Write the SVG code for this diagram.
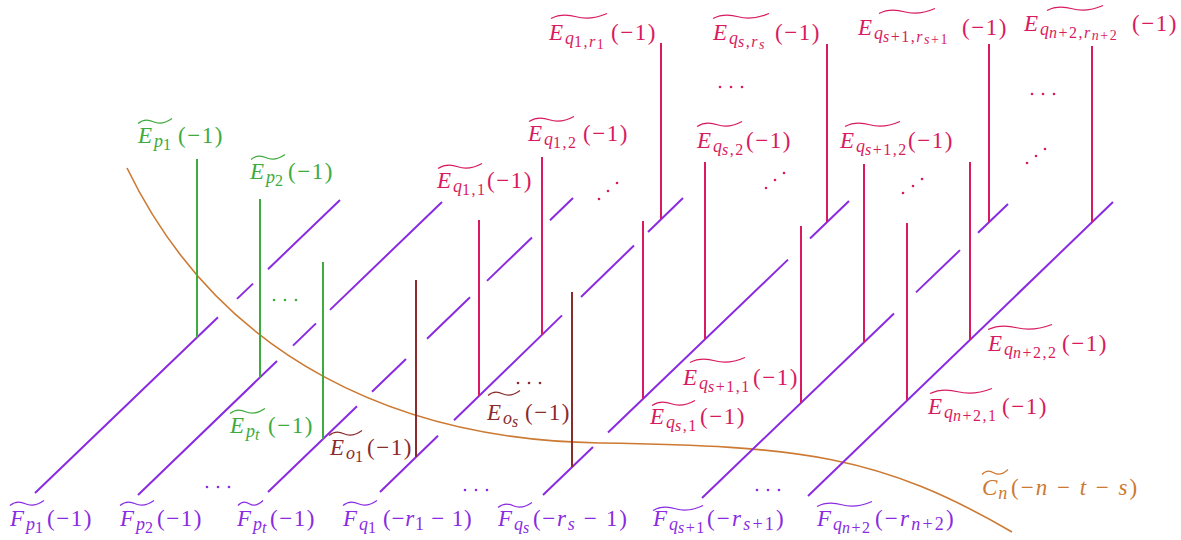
<svg xmlns="http://www.w3.org/2000/svg" width="1181" height="540" viewBox="0 0 1181 540">
<style>
.bg{fill:#ffffff}
.fl{stroke:#8a2be2;stroke-width:2;fill:none;stroke-linecap:butt}
.gl{stroke:#3dab3d;stroke-width:2;fill:none}
.rl{stroke:#d81b60;stroke-width:2;fill:none}
.bl{stroke:#8a2c2c;stroke-width:2;fill:none}
.cv{stroke:#cc7a33;stroke-width:1.6;fill:none}
.t{font-family:"Liberation Serif","DejaVu Serif",serif;font-size:23px}
.i{font-style:italic}
.a{font-size:18px}
.b{font-size:16px;letter-spacing:1.5px}
.c{font-size:14px;letter-spacing:1.5px}
.p{letter-spacing:1.5px}
.g{fill:#3dab3d}.gt{stroke:#3dab3d}
.r{fill:#d81b60}.rt{stroke:#d81b60}
.br{fill:#8a2c2c}.brt{stroke:#8a2c2c}
.v{fill:#8a2be2}.vt{stroke:#8a2be2}
.o{fill:#cc7a33}.ot{stroke:#cc7a33}
.tl{fill:none;stroke-width:1.2}
</style>
<rect class="bg" x="0" y="0" width="1181" height="540"/>

<g id="curve-Cn">
<path class="cv" d="M127,168 C220,360 400,440 600,443 S880,455 1012,532"/>
</g>

<g id="connectors">
<g id="F-lines">
<path id="F_p1" class="fl" d="M35,493 L218,317.2 M237,298.9 L253,283.6 M268,269.2 L340,200"/>
<path id="F_p2" class="fl" d="M138,495 L277,361 M293,345.6 L316,323.4 M330,309.9 L442,202"/>
<path id="F_pt" class="fl" d="M268,492 L357,406.2 M372,391.8 L406,359 M427,338.7 L470,297.3 M487,280.9 L532,237.5 M550,220.2 L573,198"/>
<path id="F_q1" class="fl" d="M380,492 L438,435.7 M454,420.2 L562,315.4 M581,297 L634,245.5 M648,232 L683,198"/>
<path id="F_qs" class="fl" d="M543,495 L593,447 M608,432.5 L788,259.6 M810,238.5 L849,201"/>
<path id="F_qs1" class="fl" d="M702,498 L894,313.5 M916,292.4 L960,250.1 M978,232.8 L1008,204"/>
<path id="F_qn2" class="fl" d="M808,496 L1113,202"/>
</g>
<g id="E-lines">
<path class="gl" d="M197,159 V337.4 M260,199 V377.4 M323,262 V439"/>
<path class="bl" d="M416,280 V457.1 M572,292 V467.1"/>
<path class="rl" d="M479,220 V395.9 M542,157 V334.8 M661,43 V219.3 M643,221 V398.9 M705,162 V339.4 M827,44 V222.1 M801,226 V402.9 M864,164 V342.4 M989,44 V222.3 M907,223 V400.6 M970,162 V339.8 M1092,46 V222.2"/>
</g>
</g>

<g id="dots">
<g class="g"><circle cx="274" cy="300" r="1.3"/><circle cx="285" cy="300" r="1.3"/><circle cx="296" cy="300" r="1.3"/></g>
<g class="br"><circle cx="518" cy="383" r="1.3"/><circle cx="529" cy="383" r="1.3"/><circle cx="540" cy="383" r="1.3"/></g>
<g class="v"><circle cx="207" cy="487" r="1.3"/><circle cx="218" cy="487" r="1.3"/><circle cx="229" cy="487" r="1.3"/><circle cx="465" cy="490" r="1.3"/><circle cx="476" cy="490" r="1.3"/><circle cx="487" cy="490" r="1.3"/><circle cx="757" cy="490" r="1.3"/><circle cx="768" cy="490" r="1.3"/><circle cx="779" cy="490" r="1.3"/></g>
<g class="r"><circle cx="720" cy="87" r="1.3"/><circle cx="731" cy="87" r="1.3"/><circle cx="742" cy="87" r="1.3"/><circle cx="1032" cy="94" r="1.3"/><circle cx="1043" cy="94" r="1.3"/><circle cx="1054" cy="94" r="1.3"/><circle cx="599" cy="199" r="1.3"/><circle cx="608" cy="191" r="1.3"/><circle cx="617" cy="183" r="1.3"/><circle cx="766" cy="188" r="1.3"/><circle cx="775" cy="180" r="1.3"/><circle cx="784" cy="173" r="1.3"/><circle cx="903" cy="193" r="1.3"/><circle cx="913" cy="186" r="1.3"/><circle cx="922" cy="179" r="1.3"/><circle cx="1027" cy="163" r="1.3"/><circle cx="1036" cy="156" r="1.3"/><circle cx="1045" cy="149" r="1.3"/></g>
</g>

<g id="labels">
<g id="L-Ep1"><path class="tl gt" d="M138,123.5 Q144.8,117.75 153.3,121.75 T172,118.5"/><text class="t g" x="138" y="143"><tspan class="i">E</tspan><tspan class="i a" dx="2" dy="4">p</tspan><tspan class="b" dy="3">1</tspan><tspan class="p" x="178" y="143">(−1)</tspan></text></g>
<g id="L-Ep2"><path class="tl gt" d="M251,159.5 Q257.8,153.75 266.3,157.75 T285,154.5"/><text class="t g" x="250" y="179"><tspan class="i">E</tspan><tspan class="i a" dx="2" dy="4">p</tspan><tspan class="b" dy="3">2</tspan><tspan class="p" x="288" y="179">(−1)</tspan></text></g>
<g id="L-Ept"><path class="tl gt" d="M230,413.5 Q237,407.75 245.75,411.75 T265,408.5"/><text class="t g" x="230" y="433"><tspan class="i">E</tspan><tspan class="i a" dx="2" dy="4">p</tspan><tspan class="b i" dy="3">t</tspan><tspan class="p" x="268" y="433">(−1)</tspan></text></g>
<g id="L-Eo1"><path class="tl brt" d="M329,435.5 Q335.6,429.75 343.85,433.75 T362,430.5"/><text class="t br" x="330" y="455"><tspan class="i">E</tspan><tspan class="i a" dx="2" dy="4">o</tspan><tspan class="b" dy="3">1</tspan><tspan class="p" x="367" y="455">(−1)</tspan></text></g>
<g id="L-Eos"><path class="tl brt" d="M488,395.5 Q494.4,389.75 502.4,393.75 T520,390.5"/><text class="t br" x="487" y="420"><tspan class="i">E</tspan><tspan class="i a" dx="2" dy="4">o</tspan><tspan class="b i" dy="3">s</tspan><tspan class="p" x="525" y="420">(−1)</tspan></text></g>
<g id="L-Eq11"><path class="tl rt" d="M438,168.5 Q446.8,162.75 457.8,166.75 T482,163.5"/><text class="t r" x="437" y="188"><tspan class="i">E</tspan><tspan class="i a" dx="2" dy="4">q</tspan><tspan class="b" dy="3">1,1</tspan><tspan class="p" x="487" y="188">(−1)</tspan></text></g>
<g id="L-Eq12"><path class="tl rt" d="M529,121.5 Q538,115.75 549.25,119.75 T574,116.5"/><text class="t r" x="528" y="141"><tspan class="i">E</tspan><tspan class="i a" dx="2" dy="4">q</tspan><tspan class="b" dy="3">1,2</tspan><tspan class="p" x="583" y="141">(−1)</tspan></text></g>
<g id="L-Eq1r1"><path class="tl rt" d="M551,18.5 Q562.2,12.75 576.2,16.75 T607,13.5"/><text class="t r" x="549" y="40"><tspan class="i">E</tspan><tspan class="i a" dx="2" dy="4">q</tspan><tspan class="b" dy="3">1,</tspan><tspan class="b i">r</tspan><tspan class="c" dy="2">1</tspan><tspan class="p" x="611" y="40">(−1)</tspan></text></g>
<g id="L-Eqs1"><path class="tl rt" d="M652,405.5 Q660.6,399.75 671.35,403.75 T695,400.5"/><text class="t r" x="650" y="424"><tspan class="i">E</tspan><tspan class="i a" dx="2" dy="4">q</tspan><tspan class="b i" dy="3">s</tspan><tspan class="b">,1</tspan><tspan class="p" x="700" y="424">(−1)</tspan></text></g>
<g id="L-Eqs2"><path class="tl rt" d="M697,126.5 Q706,120.75 717.25,124.75 T742,121.5"/><text class="t r" x="697" y="148"><tspan class="i">E</tspan><tspan class="i a" dx="2" dy="4">q</tspan><tspan class="b i" dy="3">s</tspan><tspan class="b">,2</tspan><tspan class="p" x="746" y="148">(−1)</tspan></text></g>
<g id="L-Eqsrs"><path class="tl rt" d="M713,18.5 Q724.2,12.75 738.2,16.75 T769,13.5"/><text class="t r" x="713" y="40"><tspan class="i">E</tspan><tspan class="i a" dx="2" dy="4">q</tspan><tspan class="b i" dy="3">s</tspan><tspan class="b">,</tspan><tspan class="b i">r</tspan><tspan class="c i" dy="2">s</tspan><tspan class="p" x="775" y="40">(−1)</tspan></text></g>
<g id="L-Eqs11"><path class="tl rt" d="M690,362.5 Q701,356.75 714.75,360.75 T745,357.5"/><text class="t r" x="683" y="385"><tspan class="i">E</tspan><tspan class="i a" dx="2" dy="4">q</tspan><tspan class="b i" dy="3">s</tspan><tspan class="b">+1,1</tspan><tspan class="p" x="753" y="385">(−1)</tspan></text></g>
<g id="L-Eqs12"><path class="tl rt" d="M845,126.5 Q856,120.75 869.75,124.75 T900,121.5"/><text class="t r" x="840" y="148"><tspan class="i">E</tspan><tspan class="i a" dx="2" dy="4">q</tspan><tspan class="b i" dy="3">s</tspan><tspan class="b">+1,2</tspan><tspan class="p" x="908" y="148">(−1)</tspan></text></g>
<g id="L-Eqs1rs1"><path class="tl rt" d="M879,13.5 Q890.2,7.75 904.2,11.75 T935,8.5"/><text class="t r" x="858" y="35"><tspan class="i">E</tspan><tspan class="i a" dx="2" dy="4">q</tspan><tspan class="b i" dy="3">s</tspan><tspan class="b">+1,</tspan><tspan class="b i">r</tspan><tspan class="c i" dy="2">s</tspan><tspan class="c">+1</tspan><tspan class="p" x="962" y="35">(−1)</tspan></text></g>
<g id="L-Eqn21"><path class="tl rt" d="M930,393.5 Q942.4,387.75 957.9,391.75 T992,388.5"/><text class="t r" x="928" y="414"><tspan class="i">E</tspan><tspan class="i a" dx="2" dy="4">q</tspan><tspan class="b i" dy="3">n</tspan><tspan class="b">+2,1</tspan><tspan class="p" x="1002" y="414">(−1)</tspan></text></g>
<g id="L-Eqn22"><path class="tl rt" d="M988,329.5 Q1000.8,323.75 1016.8,327.75 T1052,324.5"/><text class="t r" x="988" y="351"><tspan class="i">E</tspan><tspan class="i a" dx="2" dy="4">q</tspan><tspan class="b i" dy="3">n</tspan><tspan class="b">+2,2</tspan><tspan class="p" x="1062" y="351">(−1)</tspan></text></g>
<g id="L-Eqn2rn2"><path class="tl rt" d="M1047,10.5 Q1058.2,4.75 1072.2,8.75 T1103,5.5"/><text class="t r" x="1024" y="31"><tspan class="i">E</tspan><tspan class="i a" dx="2" dy="4">q</tspan><tspan class="b i" dy="3">n</tspan><tspan class="b">+2,</tspan><tspan class="b i">r</tspan><tspan class="c i" dy="2">n</tspan><tspan class="c">+2</tspan><tspan class="p" x="1132" y="31">(−1)</tspan></text></g>
<g id="L-Fp1"><path class="tl vt" d="M10,505.5 Q16.8,499.75 25.3,503.75 T44,500.5"/><text class="t v" x="10" y="526"><tspan class="i">F</tspan><tspan class="i a" dx="2" dy="4">p</tspan><tspan class="b" dy="3">1</tspan><tspan class="p" x="47" y="526">(−1)</tspan></text></g>
<g id="L-Fp2"><path class="tl vt" d="M120,505.5 Q126.8,499.75 135.3,503.75 T154,500.5"/><text class="t v" x="120" y="526"><tspan class="i">F</tspan><tspan class="i a" dx="2" dy="4">p</tspan><tspan class="b" dy="3">2</tspan><tspan class="p" x="157" y="526">(−1)</tspan></text></g>
<g id="L-Fpt"><path class="tl vt" d="M238,505.5 Q243,499.75 249.25,503.75 T263,500.5"/><text class="t v" x="237" y="526"><tspan class="i">F</tspan><tspan class="i a" dx="2" dy="4">p</tspan><tspan class="b i" dy="3">t</tspan><tspan class="p" x="270" y="526">(−1)</tspan></text></g>
<g id="L-Fq1"><path class="tl vt" d="M343,505.5 Q349.8,499.75 358.3,503.75 T377,500.5"/><text class="t v" x="343" y="526"><tspan class="i">F</tspan><tspan class="i a" dx="2" dy="4">q</tspan><tspan class="b" dy="3">1</tspan><tspan x="383" y="526" style="letter-spacing:0.8px">(−<tspan class="i">r</tspan><tspan class="a" dy="4">1</tspan><tspan dy="-4"> − 1)</tspan></tspan></text></g>
<g id="L-Fqs"><path class="tl vt" d="M498,507.5 Q504.8,501.75 513.3,505.75 T532,502.5"/><text class="t v" x="498" y="526"><tspan class="i">F</tspan><tspan class="i a" dx="2" dy="4">q</tspan><tspan class="b i" dy="3">s</tspan><tspan x="533" y="526" style="letter-spacing:1.7px">(−<tspan class="i">r</tspan><tspan class="a i" dy="4">s</tspan><tspan dy="-4"> − 1)</tspan></tspan></text></g>
<g id="L-Fqs1"><path class="tl vt" d="M653,510.5 Q663,504.75 675.5,508.75 T703,505.5"/><text class="t v" x="653" y="526"><tspan class="i">F</tspan><tspan class="i a" dx="2" dy="4">q</tspan><tspan class="b i" dy="3">s</tspan><tspan class="b">+1</tspan><tspan x="707" y="526" style="letter-spacing:2.2px">(−<tspan class="i">r</tspan><tspan class="a i" dy="4">s</tspan><tspan class="a">+1</tspan><tspan dy="-4">)</tspan></tspan></text></g>
<g id="L-Fqn2"><path class="tl vt" d="M817,506.5 Q828,500.75 841.75,504.75 T872,501.5"/><text class="t v" x="817" y="526"><tspan class="i">F</tspan><tspan class="i a" dx="2" dy="4">q</tspan><tspan class="b i" dy="3">n</tspan><tspan class="b">+2</tspan><tspan x="875" y="526" style="letter-spacing:2.2px">(−<tspan class="i">r</tspan><tspan class="a i" dy="4">n</tspan><tspan class="a">+2</tspan><tspan dy="-4">)</tspan></tspan></text></g>
<g id="L-Cn"><path class="tl ot" d="M982,474.5 Q987.2,468.75 993.7,472.75 T1008,469.5"/><text class="t o" x="982" y="495"><tspan class="i">C</tspan><tspan class="i a" dx="1" dy="4">n</tspan><tspan x="1011" y="495" style="letter-spacing:2px">(−<tspan class="i">n</tspan> − <tspan class="i">t</tspan> − <tspan class="i">s</tspan>)</tspan></text></g>
</g>
</svg>
